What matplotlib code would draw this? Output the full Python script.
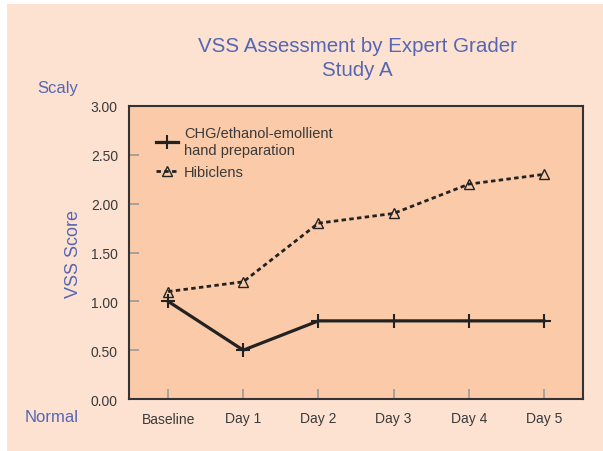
import matplotlib
matplotlib.use("Agg")
import matplotlib.pyplot as plt

categories = ["Baseline", "Day 1", "Day 2", "Day 3", "Day 4", "Day 5"]
chg_values = [1.0, 0.5, 0.8, 0.8, 0.8, 0.8]
hibiclens_values = [1.1, 1.2, 1.8, 1.9, 2.2, 2.3]
y_ticks = [0.0, 0.5, 1.0, 1.5, 2.0, 2.5, 3.0]
series_names = ["CHG/ethanol-emollient\nhand preparation", "Hibiclens"]

plt.rcParams['font.family'] = ["Liberation Sans", "DejaVu Sans"]

BLUE = "#5566b2"
TXT = "#3a3a3a"
fig = plt.figure(figsize=(6.03, 4.52), dpi=100, facecolor="white")
fig.patches.append(plt.Rectangle((7/603, 0), 1, 1 - 5/452, transform=fig.transFigure,
                                 facecolor="#fde2d2", edgecolor="none", zorder=-10))
ax = fig.add_axes([129/603, 1 - 400/452, 454/603, 293/452])
ax.set_facecolor("#fbcaa9")

x = list(range(len(categories)))
ax.plot(x, chg_values, color="#222222", lw=2.3, marker="+", ms=10, mew=1.5,
        label=series_names[0])
ax.plot(x, hibiclens_values, color="#222222", lw=2.0, ls=(0, (1.6, 1.2)), marker="^",
        ms=7, mfc="none", mew=1.0, label=series_names[1])

ax.set_xlim(-0.52, 5.52)
ax.set_ylim(0, 3)
ax.set_xticks(x)
ax.set_xticklabels(categories)
ax.set_yticks(y_ticks)
ax.set_yticklabels([f"{v:.2f}" for v in y_ticks])
ax.tick_params(direction="in", length=7, color="#999999", width=1.2,
               labelsize=10, labelcolor=TXT)
ax.tick_params(axis="y", pad=8)
ax.tick_params(axis="x", pad=9)
for s in ax.spines.values():
    s.set_color("#333333")
    s.set_linewidth(1.5)

ax.set_ylabel("VSS Score", color=BLUE, fontsize=13)
ax.yaxis.set_label_coords((82 - 129) / 454, 0.5)

fig.text(357/603, 1 - 47/452, "VSS Assessment by Expert Grader", ha="center", va="center",
         color=BLUE, fontsize=14.8)
fig.text(357/603, 1 - 70/452, "Study A", ha="center", va="center",
         color=BLUE, fontsize=14.8)
fig.text(58/603, 1 - 88/452, "Scaly", ha="center", va="center", color=BLUE, fontsize=12)
fig.text(52/603, 1 - 417/452, "Normal", ha="center", va="center", color=BLUE, fontsize=12)

leg = ax.legend(loc="upper left", bbox_to_anchor=(0.03, 0.975), frameon=False,
                fontsize=10.5, handlelength=1.5, labelspacing=0.6, handletextpad=0.45,
                labelcolor=TXT)

fig.savefig("out.png", dpi=100, facecolor=fig.get_facecolor())
